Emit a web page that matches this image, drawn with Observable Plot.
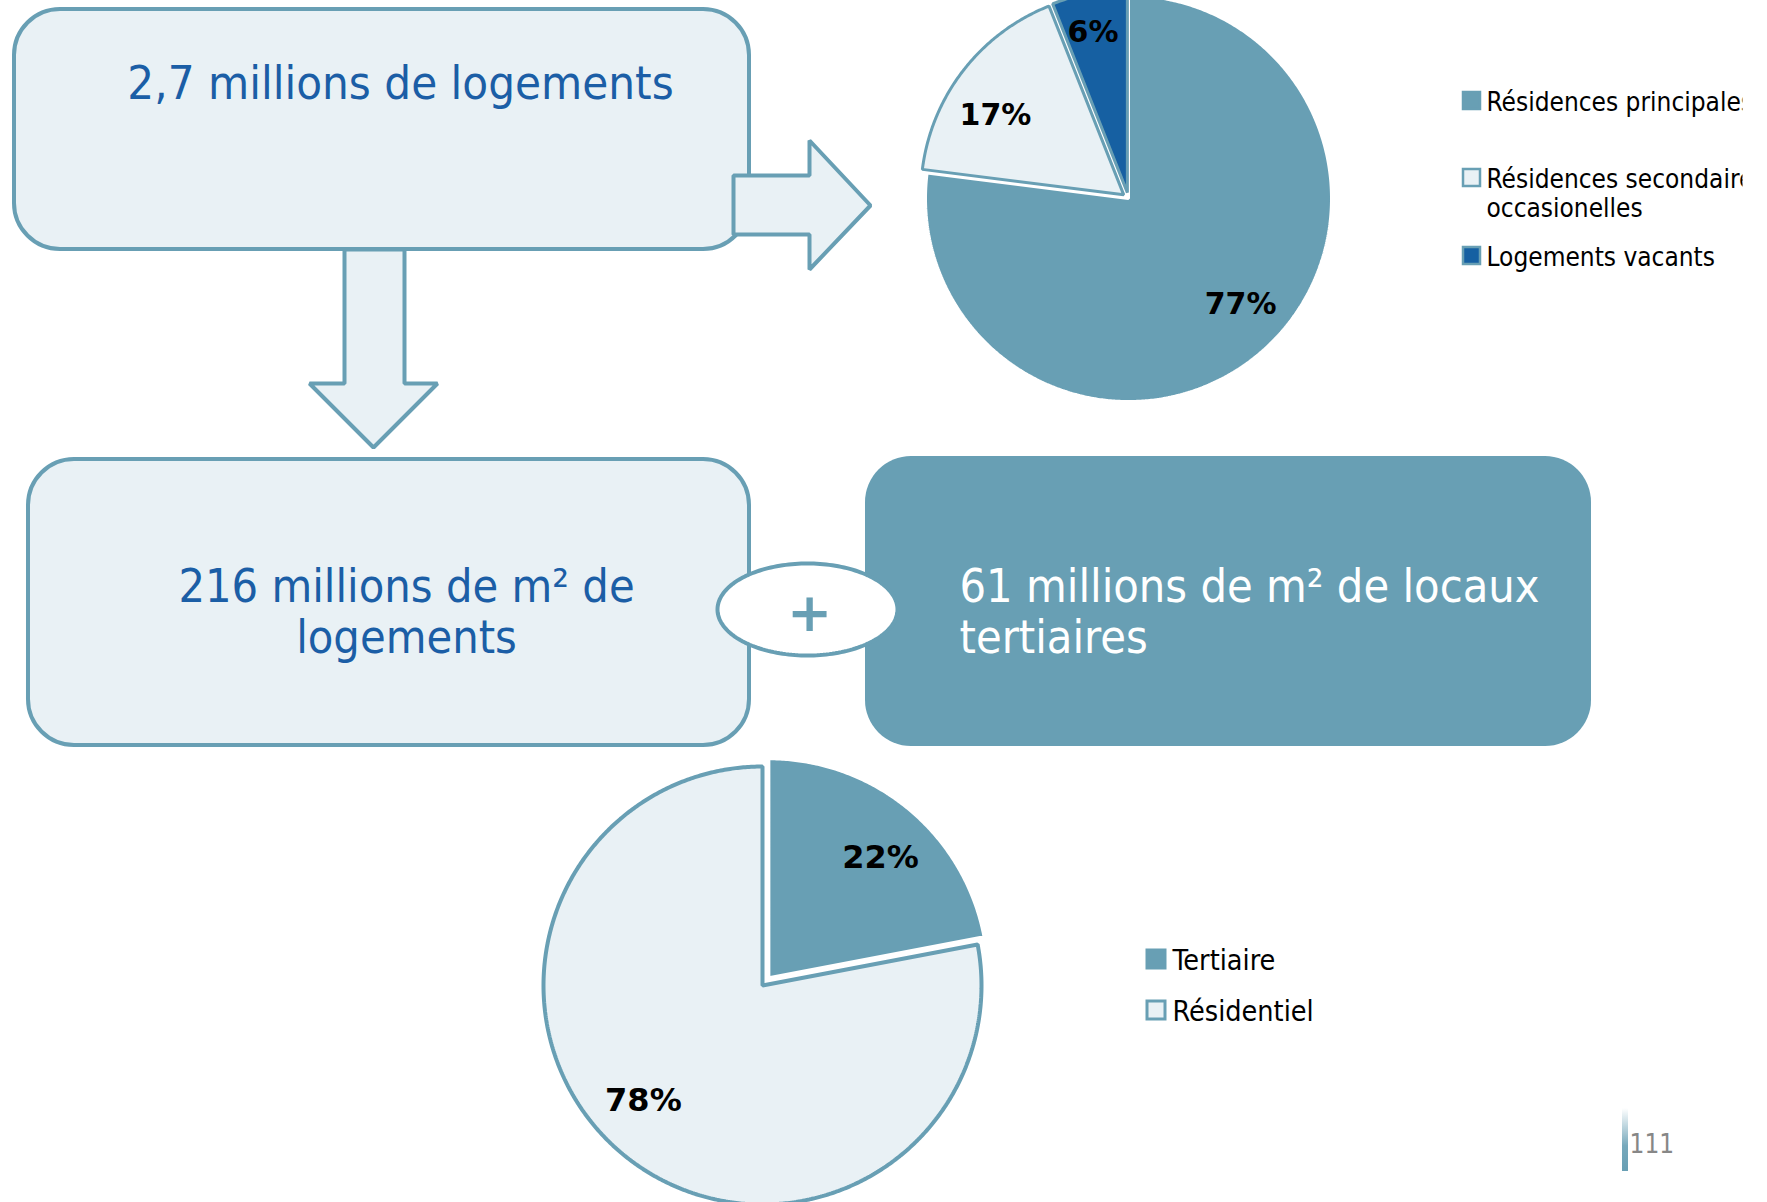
<!DOCTYPE html>
<html><head><meta charset="utf-8">
<script src="https://cdn.jsdelivr.net/npm/d3@7"></script>
<script src="https://cdn.jsdelivr.net/npm/@observablehq/plot@0.6"></script>
<style>html,body{margin:0;padding:0;background:#fff;overflow:hidden}</style>
</head><body><div id="chart"></div>
<script>
// ---- data ----
const logementCategories = ["Résidences principales", "Résidences secondaires occasionelles", "Logements vacants"];
const logementShares = [77, 17, 6];
const logementLegendLines = [["Résidences principales"], ["Résidences secondaires", "occasionelles"], ["Logements vacants"]];
const surfaceCategories = ["Tertiaire", "Résidentiel"];
const surfaceShares = [22, 78];
const headlineText = ["2,7 millions de logements"];
const surfaceText = ["216 millions de m² de", "logements"];
const tertiaireText = ["61 millions de m² de locaux", "tertiaires"];
const plusText = ["+"];
const pageNumber = ["111"];

// ---- layout & style ----
const W = 1767, H = 1202;
const C = {mid: "#689fb4", light: "#e9f1f5", dark: "#1660a2", text: "#1b5ea6", page: "#878787"};
const FONT = "'DejaVu Sans Condensed', 'DejaVu Sans', Verdana, sans-serif";
const FONTB = "'DejaVu Sans', Verdana, sans-serif";

// label placement: radius fraction and angular shift (degrees) per slice
function pieSlices(categories, values, cx, cy, r, explode, labelR, labelShift) {
  const arcs = d3.pie().sort(null).value(d => d)(values);
  return arcs.map((a, i) => {
    const mid = (a.startAngle + a.endAngle) / 2;
    const off = explode[i] || 0;
    const ox = cx + off * Math.sin(mid), oy = cy - off * Math.cos(mid);
    const pts = [{x: ox, y: oy}];
    const n = Math.max(2, Math.ceil((a.endAngle - a.startAngle) / (Math.PI / 360)));
    for (let k = 0; k <= n; k++) {
      const t = a.startAngle + (a.endAngle - a.startAngle) * k / n;
      pts.push({x: ox + r * Math.sin(t), y: oy - r * Math.cos(t)});
    }
    const lr = labelR[i] * r, la = mid + labelShift[i] * Math.PI / 180;
    return {category: categories[i], value: values[i], pts,
      label: {x: ox + lr * Math.sin(la), y: oy - lr * Math.cos(la), text: values[i] + "%"}};
  });
}

const topPie = pieSlices(logementCategories, logementShares, 1128, 198, 203, [0, 6, 6], [0.76, 0.743, 0.807], [-5.2, -6.1, -1.3]);
const botPie = pieSlices(surfaceCategories, surfaceShares, 762, 985, 219, [10, 0], [0.749, 0.756], [3.25, 6.4]);
const topFills = [C.mid, C.light, C.dark];
const topStrokes = ["white", C.mid, C.mid];
const botFills = [C.mid, C.light];
const botStrokes = ["white", C.mid];

const ellipsePts = d3.range(0, 361, 2).map(a => ({x: 807 + 90 * Math.cos(a * Math.PI / 180), y: 609 + 46 * Math.sin(a * Math.PI / 180)}));
const rightArrow = [[733,175],[809,175],[809,140],[870,205],[809,269],[809,234],[733,234]].map(([x,y]) => ({x,y}));
const downArrow = [[344,249],[404,249],[404,383],[437,383],[373,447],[309,383],[344,383]].map(([x,y]) => ({x,y}));

const poly = (pts, fill, stroke, sw) => Plot.line(pts, {x: "x", y: "y", curve: "linear-closed", fill, stroke, strokeWidth: sw, strokeLinejoin: "miter"});
const box = (b, fill, stroke, sw) => Plot.rect([b], {x1: "x1", x2: "x2", y1: "y1", y2: "y2", rx: 46, fill, stroke, strokeWidth: sw});

const topLegend = logementLegendLines.map((lines, i) => ({lines, fill: topFills[i], y: [92, 169, 247][i]}));
const topLegendText = topLegend.flatMap(d => d.lines.map((t, j) => ({text: t, y: d.y + 18 + j * 29})));
const botLegend = surfaceCategories.map((c, i) => ({text: c, fill: botFills[i], y: [950, 1001][i]}));

const chart = Plot.plot({
  width: W, height: H, margin: 0,
  x: {domain: [0, W], range: [0, W], axis: null},
  y: {domain: [0, H], range: [0, H], axis: null},
  style: {background: "white", overflow: "visible"},
  marks: [
    // boxes & arrows
    box({x1: 14, x2: 749, y1: 9, y2: 249}, C.light, C.mid, 4),
    poly(rightArrow, C.light, C.mid, 4),
    poly(downArrow, C.light, C.mid, 4),
    box({x1: 28, x2: 749, y1: 459, y2: 745}, C.light, C.mid, 4),
    box({x1: 865, x2: 1591, y1: 456, y2: 746}, C.mid, "none", 0),
    poly(ellipsePts, "white", C.mid, 4),
    Plot.text(plusText, {x: () => 809, y: () => 613, text: d => d, fontSize: 54, fontFamily: FONTB, fill: C.mid, fontWeight: "bold"}),
    Plot.text(headlineText, {x: () => 400, y: () => 83, text: d => d, fontSize: 47, fontFamily: FONT, fill: C.text}),
    Plot.text(surfaceText, {x: () => 406, y: (d, i) => 587 + i * 51, text: d => d, fontSize: 46.5, fontFamily: FONT, fill: C.text}),
    Plot.text(tertiaireText, {x: () => 959, y: (d, i) => 587 + i * 51, text: d => d, fontSize: 46.5, fontFamily: FONT, fill: "white", textAnchor: "start"}),
    // pies
    ...topPie.map((s, i) => poly(s.pts, topFills[i], topStrokes[i], 3)),
    ...botPie.map((s, i) => poly(s.pts, botFills[i], botStrokes[i], i === 1 ? 4 : 3)),
    Plot.text(topPie.map(s => s.label), {x: "x", y: "y", text: "text", fontSize: 30, fontWeight: "bold", fontFamily: FONTB, fill: "black"}),
    Plot.text(botPie.map(s => s.label), {x: "x", y: "y", text: "text", fontSize: 32, fontWeight: "bold", fontFamily: FONTB, fill: "black"}),
    // legends
    Plot.rect(topLegend, {x1: () => 1463, x2: () => 1480, y1: "y", y2: d => d.y + 17, fill: "fill", stroke: C.mid, strokeWidth: 2.5}),
    Plot.text(topLegendText, {x: () => 1486, y: d => d.y - 8, text: "text", fontSize: 26, fontFamily: FONT, fill: "black", textAnchor: "start"}),
    Plot.rect(botLegend, {x1: () => 1147, x2: () => 1165, y1: "y", y2: d => d.y + 18, fill: "fill", stroke: C.mid, strokeWidth: 3}),
    Plot.text(botLegend, {x: () => 1172, y: d => d.y + 10, text: "text", fontSize: 28.5, fontFamily: FONT, fill: "black", textAnchor: "start"}),
    // page number
    Plot.rect(pageNumber, {x1: () => 1622, x2: () => 1628, y1: () => 1108, y2: () => 1171, fill: "url(#pgGrad)"}),
    Plot.text(pageNumber, {x: () => 1629, y: () => 1144, text: d => d, fontSize: 26, fontFamily: FONT, fill: C.page, textAnchor: "start"})
  ]
});
const defs = d3.select(chart).insert("defs", ":first-child");
const g = defs.append("linearGradient").attr("id", "pgGrad").attr("x1", 0).attr("y1", 0).attr("x2", 0).attr("y2", 1);
g.append("stop").attr("offset", "0%").attr("stop-color", C.mid).attr("stop-opacity", 0);
g.append("stop").attr("offset", "60%").attr("stop-color", C.mid).attr("stop-opacity", 0.9);
g.append("stop").attr("offset", "100%").attr("stop-color", C.mid).attr("stop-opacity", 1);
// legend area clip (legend text is cut at the legend box edge)
defs.append("clipPath").attr("id", "legClip").attr("clipPathUnits", "userSpaceOnUse")
  .append("rect").attr("x", 0).attr("y", 0).attr("width", 1742).attr("height", H);
const legendStrings = topLegendText.map(d => d.text);
const legendGroups = new Set();
d3.select(chart).selectAll("text").each(function() {
  if (legendStrings.includes(this.textContent)) legendGroups.add(this.parentNode);
});
legendGroups.forEach(n => n.setAttribute("clip-path", "url(#legClip)"));
document.getElementById("chart").appendChild(chart);
</script>
</body></html>
